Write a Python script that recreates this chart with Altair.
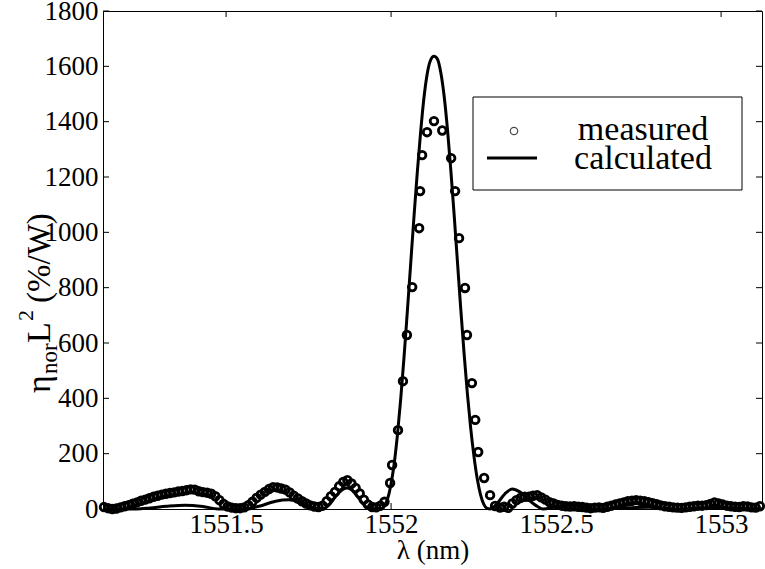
import altair as alt
import pandas as pd

# ---------------- data ----------------
meas_wl = [
    1551.1300, 1551.1425, 1551.1550, 1551.1675, 1551.1800, 1551.1925, 1551.2050, 1551.2175, 1551.2300, 1551.2425,
    1551.2550, 1551.2675, 1551.2800, 1551.2925, 1551.3050, 1551.3175, 1551.3300, 1551.3425, 1551.3550, 1551.3675,
    1551.3800, 1551.3925, 1551.4050, 1551.4175, 1551.4300, 1551.4425, 1551.4550, 1551.4675, 1551.4800, 1551.4925,
    1551.5050, 1551.5175, 1551.5300, 1551.5425, 1551.5550, 1551.5675, 1551.5800, 1551.5925, 1551.6050, 1551.6175,
    1551.6300, 1551.6425, 1551.6550, 1551.6675, 1551.6800, 1551.6925, 1551.7050, 1551.7175, 1551.7300, 1551.7425,
    1551.7550, 1551.7675, 1551.7800, 1551.7925, 1551.8050, 1551.8175, 1551.8300, 1551.8425, 1551.8550, 1551.8675,
    1551.8800, 1551.8925, 1551.9050, 1551.9175, 1551.9300, 1551.9425, 1551.9550, 1551.9675, 1551.9800,
    1551.997, 1552.003, 1552.021, 1552.036, 1552.048, 1552.064, 1552.085, 1552.088, 1552.094, 1552.109,
    1552.130, 1552.155, 1552.182, 1552.194, 1552.206, 1552.224, 1552.230, 1552.245, 1552.255, 1552.264,
    1552.282, 1552.300, 1552.315,
    1552.3300, 1552.3425, 1552.3550, 1552.3675, 1552.3800, 1552.3925, 1552.4050, 1552.4175, 1552.4300, 1552.4425,
    1552.4550, 1552.4675, 1552.4800, 1552.4925, 1552.5050, 1552.5175, 1552.5300, 1552.5425, 1552.5550, 1552.5675,
    1552.5800, 1552.5925, 1552.6050, 1552.6175, 1552.6300, 1552.6425, 1552.6550, 1552.6675, 1552.6800, 1552.6925,
    1552.7050, 1552.7175, 1552.7300, 1552.7425, 1552.7550, 1552.7675, 1552.7800, 1552.7925, 1552.8050, 1552.8175,
    1552.8300, 1552.8425, 1552.8550, 1552.8675, 1552.8800, 1552.8925, 1552.9050, 1552.9175, 1552.9300, 1552.9425,
    1552.9550, 1552.9675, 1552.9800, 1552.9925, 1553.0050, 1553.0175, 1553.0300, 1553.0425, 1553.0550, 1553.0675,
    1553.0800, 1553.0925, 1553.1050, 1553.1175,
]
meas_val = [
    7, 3, 0, 2, 6, 10, 14, 19, 24, 30,
    34, 39, 44, 48, 52, 55, 58, 60, 63, 65,
    68, 71, 70, 64, 61, 59, 55, 46, 32, 18,
    9, 5, 3, 3, 6, 14, 26, 40, 52, 62,
    72, 79, 78, 74, 70, 60, 48, 38, 28, 20,
    13, 9, 7, 12, 28, 46, 62, 82, 98, 104,
    92, 76, 56, 34, 16, 7, 6, 12, 26,
    94, 159, 285, 462, 629, 802, 1015, 1149, 1279, 1362,
    1402, 1368, 1268, 1149, 979, 799, 629, 455, 322, 206,
    112, 50, 11,
    5, 8, 4, 20, 32, 40, 44, 44, 48, 50,
    42, 34, 25, 20, 15, 12, 10, 9, 10, 8,
    7, 5, 3, 5, 6, 4, 8, 12, 16, 20,
    24, 28, 30, 32, 30, 28, 25, 21, 17, 13,
    10, 8, 6, 5, 4, 6, 8, 10, 12, 12,
    14, 18, 24, 20, 16, 12, 10, 8, 7, 10,
    9, 6, 5, 10,
]

calc_wl = [
    1551.127, 1551.23, 1551.27, 1551.32, 1551.376, 1551.43, 1551.476, 1551.56, 1551.60, 1551.65,
    1551.69, 1551.73, 1551.77, 1551.79, 1551.81, 1551.83, 1551.85, 1551.865, 1551.88, 1551.90,
    1551.92, 1551.935, 1551.969, 1551.979, 1551.989, 1551.999, 1552.009, 1552.019, 1552.029, 1552.039,
    1552.049, 1552.059, 1552.069, 1552.079, 1552.089, 1552.099, 1552.109, 1552.119, 1552.130, 1552.141,
    1552.151, 1552.161, 1552.171, 1552.181, 1552.191, 1552.201, 1552.211, 1552.221, 1552.231, 1552.241,
    1552.251, 1552.261, 1552.271, 1552.281, 1552.291, 1552.30, 1552.32, 1552.345, 1552.367, 1552.39,
    1552.42, 1552.445, 1552.46, 1552.50, 1552.54, 1552.58, 1552.62, 1552.70, 1552.78, 1552.86,
    1552.95, 1553.03, 1553.124,
]
calc_val = [
    0, 0, 4, 10, 14, 9, 0, 0, 10, 28,
    33, 20, 2, 0, 12, 42, 68, 76, 70, 42,
    12, 0, 0, 10, 35, 85, 160, 265, 395, 545,
    710, 880, 1050, 1210, 1355, 1480, 1570, 1620, 1636, 1625,
    1575, 1490, 1370, 1225, 1065, 895, 725, 565, 420, 295,
    192, 110, 52, 17, 2, 0, 18, 55, 72, 62,
    30, 8, 0, 8, 14, 8, 0, 3, 6, 0,
    3, 4, 0,
]

x_ticks = [1551.5, 1552, 1552.5, 1553]
y_ticks = [0, 200, 400, 600, 800, 1000, 1200, 1400, 1600, 1800]
legend_labels = ["measured", "calculated"]
x_title = "λ (nm)"
y_title_parts = ["η", "nor", "L", "2", "(%/W)"]

# ---------------- layout ----------------
W, H = 659, 498
PL, PT = 103, 11
FONT = "Liberation Serif, Times New Roman, serif"

xs = alt.Scale(domain=[1551.127, 1553.124], nice=False, zero=False)
ys = alt.Scale(domain=[0, 1800], nice=False, zero=False)

meas = pd.DataFrame({"wl": meas_wl, "val": meas_val})
calc = pd.DataFrame({"wl": calc_wl, "val": calc_val})
one = pd.DataFrame({"d": [0]})

x_axis = alt.Axis(values=x_ticks, format="~g", labelPadding=2, title=x_title, titlePadding=0)
y_axis = alt.Axis(values=y_ticks, format="d", labelPadding=5, title=None)

X = alt.X("wl:Q", scale=xs, axis=x_axis)
Y = alt.Y("val:Q", scale=ys, axis=y_axis)

points = alt.Chart(meas).mark_point(shape="circle", filled=False, color="black",
                                     size=58, strokeWidth=2.8, opacity=1).encode(x=X, y=Y)

line = alt.Chart(calc).mark_line(color="black", strokeWidth=3,
                                 interpolate="monotone").encode(x=X, y=Y)

# inward tick marks on all four sides
xt = pd.DataFrame({"wl": x_ticks})
yt = pd.DataFrame({"val": y_ticks})
TK = 6
tick_b = alt.Chart(xt).mark_rule(color="black", strokeWidth=1).encode(
    x=X, y=alt.value(H), y2=alt.value(H - TK))
tick_t = alt.Chart(xt).mark_rule(color="black", strokeWidth=1).encode(
    x=X, y=alt.value(0), y2=alt.value(TK))
tick_l = alt.Chart(yt).mark_rule(color="black", strokeWidth=1).encode(
    y=Y, x=alt.value(0), x2=alt.value(TK))
tick_r = alt.Chart(yt).mark_rule(color="black", strokeWidth=1).encode(
    y=Y, x=alt.value(W - TK), x2=alt.value(W))

# legend
leg_box = alt.Chart(one).mark_rect(fill="white", stroke="black", strokeWidth=1).encode(
    x=alt.value(473 - PL), x2=alt.value(742 - PL), y=alt.value(97 - PT), y2=alt.value(190 - PT))
leg_pt = alt.Chart(one).mark_point(shape="circle", filled=False, color="black",
                                    size=55, strokeWidth=1.2).encode(
    x=alt.value(514 - PL), y=alt.value(131 - PT))
leg_ln = alt.Chart(one).mark_rule(color="black", strokeWidth=3).encode(
    x=alt.value(487 - PL), x2=alt.value(537 - PL), y=alt.value(158 - PT))
leg_t1 = alt.Chart(one).mark_text(text=legend_labels[0], font=FONT, fontSize=34, color="black",
                                   align="center", baseline="alphabetic").encode(
    x=alt.value(643 - PL), y=alt.value(140 - PT))
leg_t2 = alt.Chart(one).mark_text(text=legend_labels[1], font=FONT, fontSize=34, color="black",
                                   align="center", baseline="alphabetic").encode(
    x=alt.value(643 - PL), y=alt.value(169 - PT))

# composite y-axis title (rotated, with subscript / superscript)
def ytext(txt, size, bx, by):
    return alt.Chart(one).mark_text(text=txt, font=FONT, fontSize=size, color="black",
                                    angle=270, align="left", baseline="alphabetic").encode(
        x=alt.value(bx - PL), y=alt.value(by - PT))

yt_eta = ytext(y_title_parts[0], 34, 50, 393)
yt_nor = ytext(y_title_parts[1], 23, 57, 374)
yt_L = ytext(y_title_parts[2], 34, 50, 343)
yt_2 = ytext(y_title_parts[3], 22, 33, 321)
yt_unit = ytext(y_title_parts[4], 33, 50, 303)

chart = alt.layer(
    points, line, tick_b, tick_t, tick_l, tick_r,
    leg_box, leg_pt, leg_ln, leg_t1, leg_t2,
    yt_eta, yt_nor, yt_L, yt_2, yt_unit,
).properties(
    width=W, height=H,
    autosize=alt.AutoSizeParams(type="none"),
    padding={"left": PL, "top": PT, "right": 765 - PL - W, "bottom": 569 - PT - H},
    background="white",
).configure_view(
    stroke="black", strokeWidth=1
).configure_axis(
    labelFont=FONT, labelFontSize=27, labelColor="black",
    titleFont=FONT, titleFontSize=27, titleFontWeight="normal", titleColor="black",
    tickSize=0, domain=False, grid=False, labelFlush=False, labelOverlap=False,
)

chart.save("out.html", embed_options={"renderer": "svg", "actions": False})
